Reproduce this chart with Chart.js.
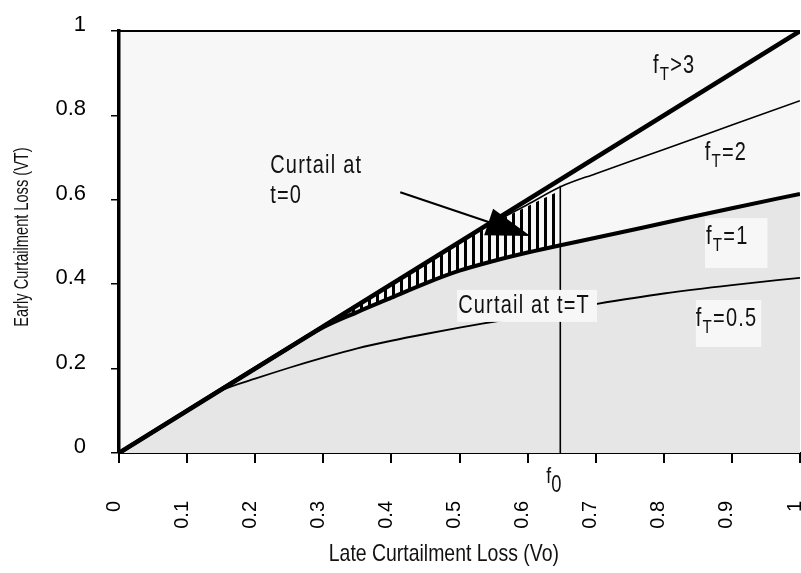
<!DOCTYPE html>
<html>
<head>
<meta charset="utf-8">
<script src="https://cdn.jsdelivr.net/npm/chart.js@4.4.1/dist/chart.umd.min.js"></script>
<style>
  html, body { margin: 0; padding: 0; background: #fff; overflow: hidden; }
  .chart-container { width: 801px; height: 573px; }
</style>
</head>
<body>
<div class="chart-container"><canvas id="myChart"></canvas></div>
<script>
const SANS = '"Liberation Sans", Arial, sans-serif';

// x = late curtailment loss (Vo), y = early curtailment loss (VT)
// f_T > 3 : the diagonal
const diagX = [0, 1];
const diagY = [0, 1];

// f_T = 2
const f2X = [0, 0.5, 0.55, 0.6, 0.65, 0.7, 0.8, 0.9, 1];
const f2Y = [0, 0.5, 0.546, 0.589, 0.632, 0.662, 0.719, 0.777, 0.835];

// f_T = 1
const f1X = [0, 0.25, 0.3, 0.35, 0.4, 0.45, 0.5, 0.55, 0.6, 0.65, 0.7, 0.8, 0.9, 1];
const f1Y = [0, 0.25, 0.298, 0.334, 0.368, 0.402, 0.432, 0.455, 0.475, 0.493, 0.51, 0.545, 0.58, 0.614];

// f_T = 0.5
const f05X = [0, 0.12, 0.15, 0.2, 0.25, 0.3, 0.35, 0.4, 0.45, 0.5, 0.55, 0.6, 0.7, 0.8, 0.9, 1];
const f05Y = [0, 0.12, 0.148, 0.176, 0.202, 0.226, 0.248, 0.266, 0.282, 0.297, 0.311, 0.325, 0.353, 0.378, 0.398, 0.415];

// hatched zone "curtail at t=0", between f_T=2 and f_T=1
const hatchX = [0.32, 0.35, 0.4, 0.45, 0.5, 0.55, 0.6, 0.648];
const hatchTop = [0.32, 0.35, 0.4, 0.45, 0.5, 0.545, 0.585, 0.622];
const hatchBottom = [0.313, 0.334, 0.368, 0.402, 0.432, 0.455, 0.475, 0.493];

// threshold f0
const f0 = 0.648;
const f0Top = 0.633;

const xTicks = [0, 0.1, 0.2, 0.3, 0.4, 0.5, 0.6, 0.7, 0.8, 0.9, 1];
const yTicks = [0, 0.2, 0.4, 0.6, 0.8, 1];

const pts = (xs, ys) => xs.map((x, i) => ({ x: x, y: ys[i] }));

// vertical stripes for the hatch
const stripe = document.createElement('canvas');
stripe.width = 8;
stripe.height = 8;
const sctx = stripe.getContext('2d');
sctx.fillStyle = '#000';
sctx.fillRect(0, 0, 3, 8);
const hatch = sctx.createPattern(stripe, 'repeat');

// text notes, placed in data units
const notes = [
  { x: 0.222, y: 0.664, parts: [['Curtail at', 0]] },
  { x: 0.222, y: 0.592, parts: [['t=0', 0]] },
  { x: 0.784, y: 0.900, parts: [['f', 0], ['T', 1], ['>3', 0]] },
  { x: 0.860, y: 0.694, parts: [['f', 0], ['T', 1], ['=2', 0]] },
  { x: 0.862, y: 0.495, parts: [['f', 0], ['T', 1], ['=1', 0]], box: [1, 26, 19, 24] },
  { x: 0.847, y: 0.301, parts: [['f', 0], ['T', 1], ['=0.5', 0]], box: [0, 26, 4, 21] },
  { x: 0.498, y: 0.332, parts: [['Curtail at t=T', 0]], box: [1, 23, 7, 9] }
];
const arrow = { from: [0.413, 0.618], to: [0.604, 0.514] };

// condensed text (the original uses a narrow Helvetica)
const narrowText = (ctx, text, x, y, sx) => {
  ctx.save();
  ctx.translate(x, y);
  ctx.scale(sx, 1);
  ctx.fillText(text, 0, 0);
  ctx.restore();
  return ctx.measureText(text).width * sx;
};

const decorations = {
  id: 'decorations',
  beforeDraw(chart) {
    const { ctx, chartArea: a } = chart;
    ctx.save();
    ctx.fillStyle = '#f7f7f7';
    ctx.fillRect(a.left, a.top, a.right - a.left, a.bottom - a.top);
    ctx.restore();
  },
  afterDatasetsDraw(chart) {
    const { ctx, chartArea: a } = chart;
    const xs = chart.scales.x, ys = chart.scales.y;
    ctx.save();

    // top frame line
    ctx.strokeStyle = '#000';
    ctx.lineWidth = 2;
    ctx.beginPath();
    ctx.moveTo(a.left, a.top);
    ctx.lineTo(a.right, a.top);
    ctx.stroke();

    // arrow
    const x1 = xs.getPixelForValue(arrow.from[0]), y1 = ys.getPixelForValue(arrow.from[1]);
    const x2 = xs.getPixelForValue(arrow.to[0]), y2 = ys.getPixelForValue(arrow.to[1]);
    const c = Math.cos(Math.atan2(y2 - y1, x2 - x1)), s = Math.sin(Math.atan2(y2 - y1, x2 - x1));
    ctx.lineWidth = 2;
    ctx.beginPath();
    ctx.moveTo(x1, y1);
    ctx.lineTo(x2 - 30 * c, y2 - 30 * s);
    ctx.stroke();
    ctx.fillStyle = '#000';
    ctx.beginPath();
    ctx.moveTo(x2, y2);
    ctx.lineTo(x2 - 44 * c + 14 * s, y2 - 44 * s - 14 * c);
    ctx.lineTo(x2 - 44 * c - 14 * s, y2 - 44 * s + 14 * c);
    ctx.closePath();
    ctx.fill();

    // notes
    ctx.letterSpacing = '1.5px';
    ctx.textBaseline = 'alphabetic';
    ctx.textAlign = 'left';
    notes.forEach(n => {
      const px = xs.getPixelForValue(n.x), py = ys.getPixelForValue(n.y);
      let w = 0;
      n.parts.forEach(([t, sub]) => {
        ctx.font = (sub ? '19px ' : '25px ') + SANS;
        w += ctx.measureText(t).width * 0.8;
      });
      if (n.box) {
        ctx.fillStyle = '#f7f7f7';
        ctx.fillRect(px - n.box[0], py - n.box[1], w + n.box[0] + n.box[2], n.box[1] + n.box[3]);
      }
      ctx.fillStyle = '#111';
      let cx = px;
      n.parts.forEach(([t, sub]) => {
        ctx.font = (sub ? '19px ' : '25px ') + SANS;
        cx += narrowText(ctx, t, cx, sub ? py + 7 : py, 0.8);
      });
    });

    // f0 under the axis
    ctx.letterSpacing = '0px';
    const fx = xs.getPixelForValue(f0) - 14;
    ctx.font = '22px ' + SANS;
    const fw = narrowText(ctx, 'f', fx, a.bottom + 30, 0.8);
    ctx.font = '23px ' + SANS;
    narrowText(ctx, '0', fx + fw, a.bottom + 39, 0.8);

    // axis titles
    ctx.font = '24px ' + SANS;
    ctx.textAlign = 'center';
    ctx.textBaseline = 'middle';
    narrowText(ctx, 'Late Curtailment Loss (Vo)', xs.getPixelForValue(0.477), chart.height - 19, 0.81);
    ctx.save();
    ctx.translate(22, (a.top + a.bottom) / 2 - 5);
    ctx.rotate(-Math.PI / 2);
    ctx.font = '20px ' + SANS;
    narrowText(ctx, 'Early Curtailment Loss (VT)', 0, 0, 0.73);
    ctx.restore();

    ctx.restore();
  }
};

const lineStyle = (w) => ({
  borderColor: '#000',
  borderWidth: w,
  pointRadius: 0,
  fill: false,
  cubicInterpolationMode: 'monotone'
});

const data = {
  datasets: [
    Object.assign({ label: 'fT>3', data: pts(diagX, diagY) }, lineStyle(4.5)),
    Object.assign({ label: 'fT=2', data: pts(f2X, f2Y) }, lineStyle(1.6)),
    Object.assign({ label: 'fT=1', data: pts(f1X, f1Y) }, lineStyle(4), { fill: 'origin', backgroundColor: '#e6e6e6' }),
    Object.assign({ label: 'fT=0.5', data: pts(f05X, f05Y) }, lineStyle(1.8)),
    Object.assign({ label: 'f0', data: [{ x: f0, y: 0 }, { x: f0, y: f0Top }] }, lineStyle(1.6), { cubicInterpolationMode: 'default', tension: 0 }),
    Object.assign({ label: 'hatch top', data: pts(hatchX, hatchTop) }, lineStyle(0), { fill: { target: 6 }, backgroundColor: hatch }),
    Object.assign({ label: 'hatch bottom', data: pts(hatchX, hatchBottom) }, lineStyle(0))
  ]
};

const config = {
  type: 'line',
  data,
  options: {
    responsive: true,
    maintainAspectRatio: false,
    animation: false,
    layout: { padding: { top: 31, right: 1, left: 0, bottom: 0 } },
    plugins: {
      legend: { display: false },
      tooltip: { enabled: false },
      filler: { drawTime: 'beforeDatasetsDraw' }
    },
    scales: {
      x: {
        type: 'linear',
        min: 0,
        max: 1,
        z: 1,
        afterBuildTicks: s => { s.ticks = xTicks.map(v => ({ value: v })); },
        afterFit: s => { s.height = 120; s.paddingLeft = 0; s.paddingRight = 0; },
        border: { color: '#000', width: 2 },
        grid: { drawOnChartArea: false, color: '#000', lineWidth: 2, tickLength: 10 },
        ticks: {
          color: '#000',
          font: { family: SANS, size: 20 },
          minRotation: 90,
          maxRotation: 90,
          padding: 38,
          labelOffset: -5,
          autoSkip: false,
          callback: v => String(v)
        }
      },
      y: {
        type: 'linear',
        min: 0,
        max: 1,
        z: 1,
        afterBuildTicks: s => { s.ticks = yTicks.map(v => ({ value: v })); },
        afterFit: s => { s.width = 119; s.paddingTop = 0; s.paddingBottom = 0; },
        border: { color: '#000', width: 3.5 },
        grid: { drawOnChartArea: false, color: '#000', lineWidth: 1.5, tickLength: 8 },
        ticks: {
          color: '#000',
          font: { family: SANS, size: 22 },
          padding: 25,
          labelOffset: -6,
          callback: v => String(v)
        }
      }
    }
  },
  plugins: [decorations]
};

const myChart = new Chart(document.getElementById('myChart'), config);
</script>
</body>
</html>
